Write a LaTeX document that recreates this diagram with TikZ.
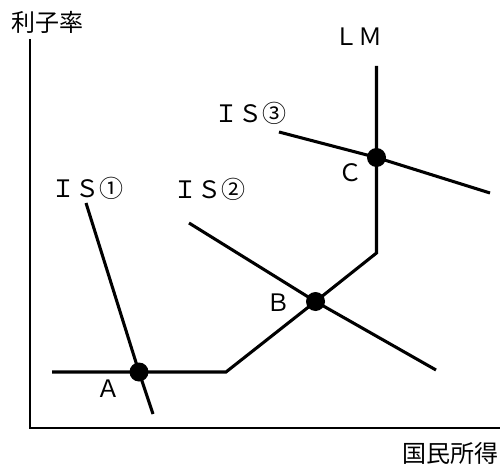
\documentclass[tikz,border=0pt]{standalone}
\usepackage{fontspec}
\newfontfamily\jpfont{Noto Sans CJK JP}
\begin{document}
\begin{tikzpicture}[x=0.75pt, y=-0.75pt, line cap=butt, line join=miter,
    axisline/.style={line width=0.8pt},
    curveline/.style={line width=2.3pt},
    lbl/.style={font=\jpfont\fontsize{18}{18}\selectfont, inner sep=0pt}]
  \useasboundingbox (0,0) rectangle (502,466);
  % axes
  \coordinate (O) at (30,428);
  \coordinate (ytop) at (30,39);
  \coordinate (xend) at (500,428);
  \draw[axisline] (ytop) -- (O) -- (xend);
  \node[lbl] (rate) at (47.5,22.5) {利子率};
  \node[lbl] (income) at (450,453) {国民所得};
  % equilibrium points
  \coordinate (A) at (139,372);
  \coordinate (B) at (315.5,301.5);
  \coordinate (C) at (376.5,157.5);
  % LM curve
  \coordinate (lmtop) at (376.5,66);
  \coordinate (lmk1) at (376.5,253);
  \coordinate (lmk2) at (226,372);
  \coordinate (lmleft) at (52,372);
  \draw[curveline] (lmtop) -- (C) -- (lmk1) -- (B) -- (lmk2) -- (A) -- (lmleft);
  % IS curves
  \coordinate (is1a) at (86,203);
  \coordinate (is1b) at (153,414);
  \coordinate (is2a) at (189,223);
  \coordinate (is2b) at (436,370);
  \coordinate (is3a) at (279,132);
  \coordinate (is3b) at (490,193);
  \draw[curveline] (is1a) -- (A) -- (is1b);
  \draw[curveline] (is2a) -- (B) -- (is2b);
  \draw[curveline] (is3a) -- (C) -- (is3b);
  \foreach \p in {A,B,C}
    \fill (\p) circle[radius=9.5];
  % labels
  \node[lbl] (lmlbl) at (358,37) {ＬＭ};
  \node[lbl] (is1lbl) at (87.5,188) {ＩＳ①};
  \node[lbl] (is2lbl) at (209,189) {ＩＳ②};
  \node[lbl] (is3lbl) at (250,113) {ＩＳ③};
  \node[lbl] (Albl) at (108,389) {Ａ};
  \node[lbl] (Blbl) at (278,303) {Ｂ};
  \node[lbl] (Clbl) at (350,173) {Ｃ};
\end{tikzpicture}
\end{document}
